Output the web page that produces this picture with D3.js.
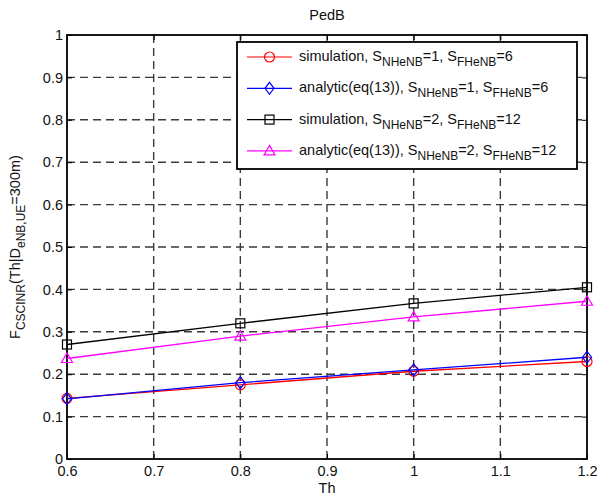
<!DOCTYPE html>
<html>
<head>
<meta charset="utf-8">
<script src="https://cdn.jsdelivr.net/npm/d3@7/dist/d3.min.js"></script>
<style>
  body { margin: 0; background: #fff; }
  svg { font-family: "Liberation Sans", Arial, sans-serif; }
</style>
</head>
<body>
<svg id="chart" width="597" height="496"></svg>
<script>
// values
const thValues = [0.6, 0.8, 1.0, 1.2];
const sim1 = [0.143, 0.175, 0.207, 0.230];
const ana1 = [0.142, 0.180, 0.210, 0.240];
const sim2 = [0.270, 0.320, 0.367, 0.405];
const ana2 = [0.237, 0.290, 0.335, 0.372];
const xTicks = [0.6, 0.7, 0.8, 0.9, 1, 1.1, 1.2];
const yTicks = [0, 0.1, 0.2, 0.3, 0.4, 0.5, 0.6, 0.7, 0.8, 0.9, 1];

const series = [
  { vals: sim1, color: "#ff0000", marker: "circle", a: "simulation, ", n: "1", f: "6" },
  { vals: ana1, color: "#0000ff", marker: "diamond", a: "analytic(eq(13)), ", n: "1", f: "6" },
  { vals: sim2, color: "#000000", marker: "square", a: "simulation, ", n: "2", f: "12" },
  { vals: ana2, color: "#ff00ff", marker: "triangle", a: "analytic(eq(13)), ", n: "2", f: "12" }
];

const FS = 14.5, SUB = 12;
const m = { left: 67, right: 10, top: 35, bottom: 37 };
const W = 597, H = 496;
const svg = d3.select("#chart");
const x = d3.scaleLinear().domain([0.6, 1.2]).range([m.left, W - m.right]);
const y = d3.scaleLinear().domain([0, 1]).range([H - m.bottom, m.top]);

// grid
const grid = svg.append("g").attr("stroke", "#3a3a3a").attr("stroke-width", 1.4)
  .attr("stroke-dasharray", "8,5");
xTicks.slice(1, -1).forEach(t => {
  grid.append("line").attr("x1", x(t)).attr("x2", x(t)).attr("y1", y(0)).attr("y2", y(1));
});
yTicks.slice(1, -1).forEach(t => {
  grid.append("line").attr("x1", x(0.6)).attr("x2", x(1.2)).attr("y1", y(t)).attr("y2", y(t));
});

// axes (matlab box, inward ticks)
const fmt = d => d3.format("~g")(d);
const ax = (g) => g.call(s => s.select(".domain").remove())
  .call(s => s.selectAll("text").attr("font-size", FS).attr("fill", "#111").attr("font-family", "Liberation Sans, Arial, sans-serif"))
  .call(s => s.selectAll("line").attr("stroke", "#000"));
svg.append("g").attr("transform", `translate(0,${y(0)})`)
  .call(d3.axisBottom(x).tickValues(xTicks).tickFormat(fmt).tickSizeInner(-5).tickPadding(7)).call(ax);
svg.append("g").attr("transform", `translate(0,${y(1)})`)
  .call(d3.axisTop(x).tickValues(xTicks).tickFormat("").tickSizeInner(-5)).call(ax);
svg.append("g").attr("transform", `translate(${x(0.6)},0)`)
  .call(d3.axisLeft(y).tickValues(yTicks).tickFormat(fmt).tickSizeInner(-5).tickPadding(4)).call(ax);
svg.append("g").attr("transform", `translate(${x(1.2)},0)`)
  .call(d3.axisRight(y).tickValues(yTicks).tickFormat("").tickSizeInner(-5)).call(ax);
svg.append("rect").attr("x", x(0.6)).attr("y", y(1))
  .attr("width", x(1.2) - x(0.6)).attr("height", y(0) - y(1))
  .attr("fill", "none").attr("stroke", "#000").attr("stroke-width", 1.8);

// markers
function drawMarker(g, type, cx, cy, color) {
  if (type === "circle") {
    g.append("circle").attr("cx", cx).attr("cy", cy).attr("r", 5)
      .attr("fill", "none").attr("stroke", color).attr("stroke-width", 1.2);
  } else if (type === "diamond") {
    g.append("path").attr("d", `M${cx},${cy - 6}L${cx + 4.5},${cy}L${cx},${cy + 6}L${cx - 4.5},${cy}Z`)
      .attr("fill", "none").attr("stroke", color).attr("stroke-width", 1.2);
  } else if (type === "square") {
    g.append("rect").attr("x", cx - 4.5).attr("y", cy - 4.5).attr("width", 9).attr("height", 9)
      .attr("fill", "none").attr("stroke", color).attr("stroke-width", 1.2);
  } else {
    g.append("path").attr("d", `M${cx},${cy - 5.5}L${cx + 5.5},${cy + 4}L${cx - 5.5},${cy + 4}Z`)
      .attr("fill", "none").attr("stroke", color).attr("stroke-width", 1.2);
  }
}

const line = d3.line().x((d, i) => x(thValues[i])).y(d => y(d));
series.forEach(s => {
  const g = svg.append("g");
  g.append("path").datum(s.vals).attr("d", line)
    .attr("fill", "none").attr("stroke", s.color).attr("stroke-width", 1.3);
  s.vals.forEach((v, i) => drawMarker(g, s.marker, x(thValues[i]), y(v), s.color));
});

// title and labels
svg.append("text").attr("x", (x(0.6) + x(1.2)) / 2).attr("y", 20)
  .attr("text-anchor", "middle").attr("font-size", FS).attr("fill", "#111").text("PedB");
svg.append("text").attr("x", (x(0.6) + x(1.2)) / 2).attr("y", 493)
  .attr("text-anchor", "middle").attr("font-size", FS).attr("fill", "#111").text("Th");

const yl = svg.append("text").attr("transform", `translate(20,${(y(0) + y(1)) / 2}) rotate(-90)`)
  .attr("text-anchor", "middle").attr("font-size", FS).attr("fill", "#111");
yl.append("tspan").text("F");
yl.append("tspan").attr("font-size", SUB).attr("dy", 5).text("CSCINR");
yl.append("tspan").attr("dy", -5).text("(Th|D");
yl.append("tspan").attr("font-size", SUB).attr("dy", 5).text("eNB,UE");
yl.append("tspan").attr("dy", -5).text("=300m)");

// legend
const lg = svg.append("g");
lg.append("rect").attr("x", 237).attr("y", 42).attr("width", 340).attr("height", 127)
  .attr("fill", "#fff").attr("stroke", "#000").attr("stroke-width", 1.8);
series.forEach((s, i) => {
  const ly = 57 + i * 31.3;
  lg.append("line").attr("x1", 247).attr("x2", 292).attr("y1", ly).attr("y2", ly)
    .attr("stroke", s.color).attr("stroke-width", 1.2);
  drawMarker(lg, s.marker, 269.5, ly, s.color);
  const t = lg.append("text").attr("x", 299).attr("y", ly + 4).attr("font-size", FS).attr("fill", "#111");
  t.append("tspan").text(s.a + "S");
  t.append("tspan").attr("font-size", SUB).attr("dy", 5).text("NHeNB");
  t.append("tspan").attr("dy", -5).text("=" + s.n + ", S");
  t.append("tspan").attr("font-size", SUB).attr("dy", 5).text("FHeNB");
  t.append("tspan").attr("dy", -5).text("=" + s.f);
});
</script>
</body>
</html>
